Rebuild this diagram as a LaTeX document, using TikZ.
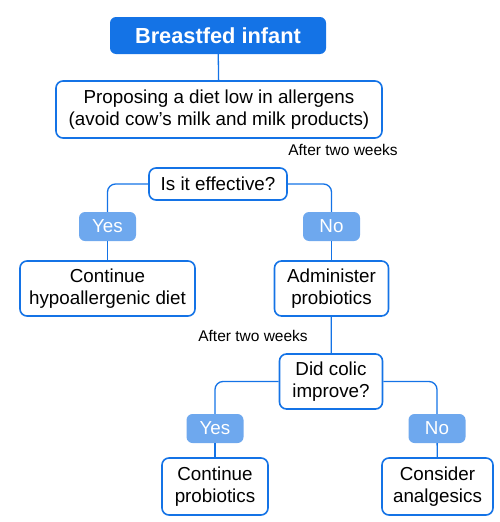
\documentclass[tikz,border=0pt]{standalone}
\usepackage{fontspec}
\setmainfont{Liberation Sans}
\usetikzlibrary{positioning,calc}
\definecolor{mainblue}{HTML}{1473E6}
\definecolor{lightblue}{HTML}{6EA8EE}

\begin{document}
\begin{tikzpicture}[x=1pt, y=-1pt,
    box/.style={draw=mainblue, line width=1.6pt, rounded corners=7pt, fill=white,
        align=center, inner sep=0pt, font=\fontsize{18.8}{22}\selectfont},
    title/.style={fill=mainblue, rounded corners=6pt, text=white, inner sep=0pt,
        font=\fontsize{21.8}{24}\selectfont\bfseries},
    answer/.style={fill=lightblue, rounded corners=6pt, text=white, inner sep=0pt,
        minimum width=57pt, minimum height=29pt, font=\fontsize{18.8}{22}\selectfont},
    wait/.style={font=\fontsize{15.5}{18}\selectfont},
    link/.style={draw=mainblue, line width=1.3pt, rounded corners=8pt}]
    \useasboundingbox (0,0) rectangle (500,522);

    % Top of the chart
    \node[title, minimum width=216pt, minimum height=37pt] (infant) at (218,35.5) {Breastfed infant};
    \node[box, minimum width=326pt, minimum height=57pt] (diet) at (219,109.5)
        {Proposing a diet low in allergens\\(avoid cow's milk and milk products)};
    \node[wait] (weeksA) at (343,150) {After two weeks};

    % First question
    \node[box, minimum width=138pt, minimum height=32pt] (effective) at (218,184) {Is it effective?};
    \node[answer] (yesA) at (107.5,226.5) {Yes};
    \node[answer] (noA) at (331.5,226.5) {No};
    \node[box, minimum width=175pt, minimum height=55pt] (hypo) at (107.5,288.5)
        {Continue\\hypoallergenic diet};
    \node[box, minimum width=114pt, minimum height=55pt] (admin) at (331.5,288.5)
        {Administer\\probiotics};
    \node[wait] (weeksB) at (253,336) {After two weeks};

    % Second question
    \node[box, minimum width=103pt, minimum height=55pt] (colic) at (331,381.5)
        {Did colic\\improve?};
    \node[answer] (yesB) at (215,428.5) {Yes};
    \node[answer] (noB) at (437,428.5) {No};
    \node[box, minimum width=106pt, minimum height=57pt] (probio) at (215,486.5)
        {Continue\\probiotics};
    \node[box, minimum width=111pt, minimum height=57pt] (analg) at (437.5,486.5)
        {Consider\\analgesics};

    % Connectors
    \draw[link] (infant) -- (diet);
    \draw[link] (effective.west) -| (yesA.north);
    \draw[link] (effective.east) -| (noA.north);
    \draw[link] (yesA) -- (hypo);
    \draw[link] (noA) -- (admin);
    \draw[link] (admin) -- (colic);
    \draw[link] (colic.west) -| (yesB.north);
    \draw[link] (colic.east) -| (noB.north);
    \draw[link] (yesB) -- (probio);
    \draw[link] (noB) -- (analg);
\end{tikzpicture}
\end{document}
